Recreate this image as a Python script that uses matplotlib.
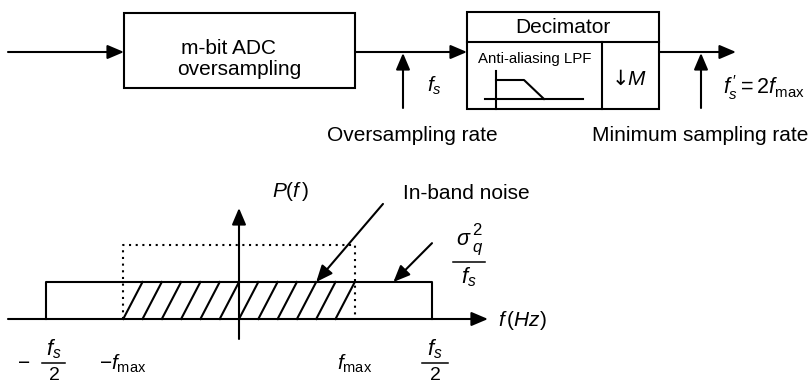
import numpy as np
import matplotlib.pyplot as plt
from matplotlib.patches import Rectangle

plt.rcParams['font.family'] = ['Liberation Sans', 'DejaVu Sans']
plt.rcParams['mathtext.fontset'] = 'custom'
plt.rcParams['mathtext.rm'] = 'Liberation Sans'
plt.rcParams['mathtext.it'] = 'Liberation Sans:italic'
plt.rcParams['mathtext.bf'] = 'Liberation Sans:bold'

# spectrum values (frequency normalised so that f_s/2 = 1)
fs_half = 1.0
f_max = 0.6
noise_level = 1.0        # sigma_q^2 / f_s
inband_level = 2.0       # dotted in-band box
hatch_step = 0.1

# block diagram texts
adc_lines = ['m-bit ADC', 'oversampling']
dec_title = 'Decimator'
lpf_label = 'Anti-aliasing LPF'
rate_labels = ['Oversampling rate', 'Minimum sampling rate']

LW = 1.5
fig = plt.figure(figsize=(8.12, 3.88), dpi=100)

# ---- top: block diagram, pixel coordinates ----
ax = fig.add_axes([0, 0, 1, 1])
ax.set_xlim(0, 812)
ax.set_ylim(388, 0)
ax.axis('off')

arrow = dict(arrowstyle='-|>,head_length=0.4,head_width=0.17', color='k',
             lw=LW, mutation_scale=25, shrinkA=0, shrinkB=0)

def arr(ax_, p0, p1):
    ax_.annotate('', xy=p1, xytext=p0, arrowprops=arrow)

def off(ax_, s, xy, dx, dy, size, **kw):
    ax_.annotate(s, xy, xytext=(dx, dy), textcoords='offset points', fontsize=size, **kw)

def frac(ax_, x, y, half_w, num, den, fn=16, fd=14):
    ax_.plot([x - half_w, x + half_w], [y, y], color='k', lw=1.1)
    off(ax_, num, (x, y), 0, 1.5, fn, ha='center', va='bottom')
    off(ax_, den, (x, y), 0, -2.5, fd, ha='center', va='top')

ax.add_patch(Rectangle((124, 13), 231, 75, fill=False, lw=LW, ec='k'))
ax.text(229, 54, adc_lines[0], ha='center', va='baseline', fontsize=15)
ax.text(239, 75, adc_lines[1], ha='center', va='baseline', fontsize=15)
arr(ax, (8, 52), (124, 52))
arr(ax, (355, 52), (467, 52))

ax.add_patch(Rectangle((467, 12), 192, 97, fill=False, lw=LW, ec='k'))
ax.plot([467, 659], [42, 42], color='k', lw=LW)
ax.plot([602, 602], [42, 109], color='k', lw=LW)
ax.text(563, 33, dec_title, ha='center', va='baseline', fontsize=15)
ax.text(534.5, 63, lpf_label, ha='center', va='baseline', fontsize=10.8)
ax.plot([496, 496], [71, 109], color='k', lw=LW)
ax.plot([485, 583], [99, 99], color='k', lw=LW)
ax.plot([496, 524, 544], [80, 80, 99], color='k', lw=LW)
ax.text(620, 85, '\u2193', ha='center', va='baseline', fontsize=15,
        family='DejaVu Sans')
ax.text(627, 85, r'$M$', ha='left', va='baseline', fontsize=15)
arr(ax, (659, 52), (736, 52))

arr(ax, (403, 108), (403, 53))
arr(ax, (701, 108), (701, 53))
ax.text(427, 92, r'$f_s$', ha='left', va='baseline', fontsize=15)
ax.text(723, 94, r"$f_s^{\,\prime} = 2f_{\mathrm{max}}$", ha='left', va='baseline',
        fontsize=15.5)
ax.text(412, 141, rate_labels[0], ha='center', va='baseline', fontsize=15)
ax.text(700, 141, rate_labels[1], ha='center', va='baseline', fontsize=15)

# ---- bottom: noise spectrum, data coordinates ----
sp = fig.add_axes([0, 0, 1, 1])
sp.patch.set_alpha(0)
sp.set_xlim(-239 / 193, (812 - 239) / 193)
sp.set_ylim(-69 / 37, (388 - 69) / 37)
sp.axis('off')

arr(sp, (-1.197, 0), (1.29, 0))
arr(sp, (0, -0.54), (0, 3.0))

# total quantisation noise floor
sp.plot([-fs_half, -fs_half, fs_half, fs_half], [0, noise_level, noise_level, 0],
        color='k', lw=LW)
# in-band box (dotted)
sp.plot([-f_max, -f_max, f_max, f_max], [0, inband_level, inband_level, 0],
        color='k', lw=LW, linestyle=(0, (1, 2.2)))
# hatched in-band noise
for f0 in np.arange(-f_max, f_max - 1e-9, hatch_step):
    f1 = min(f0 + hatch_step, f_max)
    sp.plot([f0, f1], [0, (f1 - f0) / hatch_step * noise_level], color='k', lw=LW)

arr(sp, (0.746, 3.11), (0.40, noise_level))
arr(sp, (1.0, 2.05), (0.80, noise_level))

sp.text(0.17, 3.3, r'$P(f\,)$', ha='left', va='baseline', fontsize=15)
sp.text(0.85, 3.24, 'In-band noise', ha='left', va='baseline', fontsize=15)

# sigma_q^2 / f_s label
s_xy = (1.192, 1.54)
sp.plot([s_xy[0] - 0.083, s_xy[0] + 0.083], [s_xy[1]] * 2, color='k', lw=1.1)
off(sp, r'$\sigma$', s_xy, -4, 12.2, 15.5, ha='center', va='baseline')
off(sp, '2', s_xy, 2.2, 19.4, 12, ha='left', va='baseline')
off(sp, r'$q$', s_xy, 2.2, 7.2, 12, ha='left', va='baseline')
off(sp, r'$f_s$', s_xy, 0, -2.5, 16, ha='center', va='top')

sp.text(1.34, -0.05, r'$f\,(Hz)$', ha='left', va='center', fontsize=15)
sp.text(-1.114, -1.19, '\u2212', ha='center', va='center', fontsize=15)
frac(sp, -0.961, -1.19, 0.06, r'$f_s$', r'$2$')
sp.text(-f_max, -1.2, r'$-f_{\mathrm{max}}$', ha='center', va='center', fontsize=15)
sp.text(f_max, -1.2, r'$f_{\mathrm{max}}$', ha='center', va='center', fontsize=15)
frac(sp, 1.016, -1.19, 0.067, r'$f_s$', r'$2$')

plt.savefig('out.png', dpi=100)
